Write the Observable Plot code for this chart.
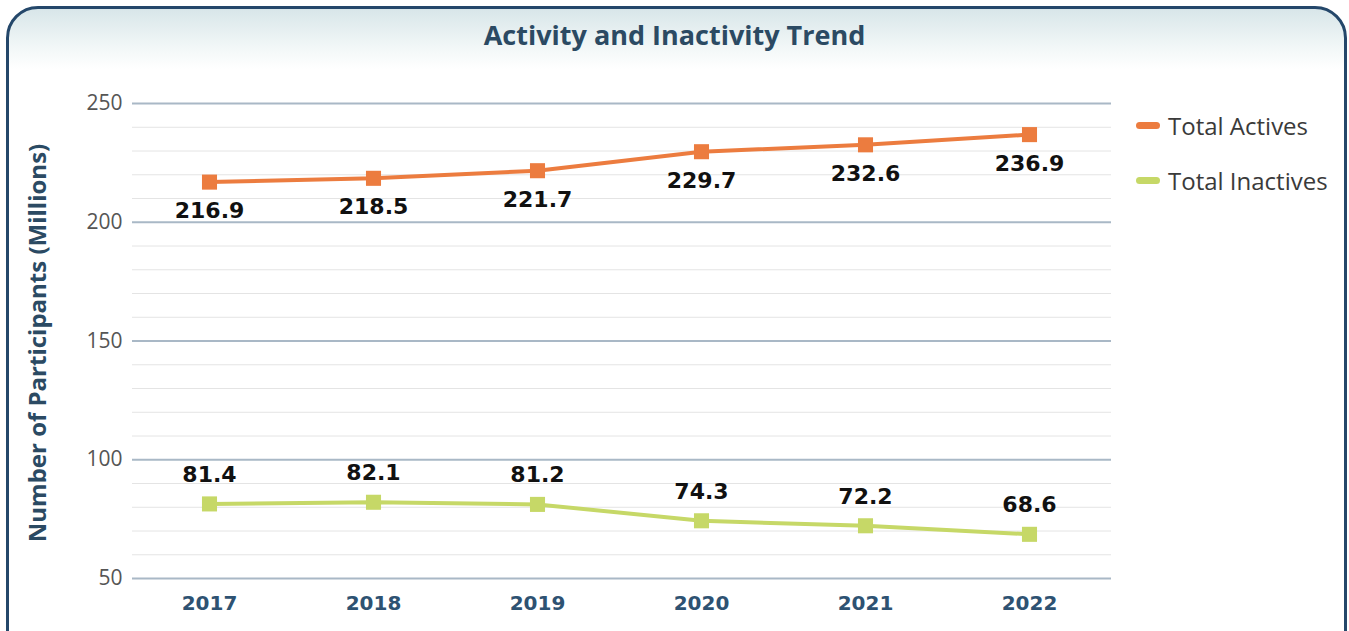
<!DOCTYPE html>
<html><head><meta charset="utf-8">
<script src="https://cdn.jsdelivr.net/npm/d3@7"></script>
<script src="https://cdn.jsdelivr.net/npm/@observablehq/plot@0.6"></script>
<style>
body{margin:0;background:#fff;width:1349px;height:631px;overflow:hidden;position:relative;font-family:"Open Sans",sans-serif}
#frame{position:absolute;left:6px;top:6px;width:1335px;height:700px;border:3px solid #24476a;border-radius:32px;background:linear-gradient(#d8e6e9 0px,#f3f8f8 40px,#ffffff 60px,#fff 100%)}
#title{position:absolute;left:0;top:0;width:1349px;height:64px;line-height:70px;text-align:center;font-weight:700;font-size:27px;color:#2b4a63;font-family:"Open Sans",sans-serif}
#chart{position:absolute;left:0;top:64px}
.leg{position:absolute;left:1136px;display:flex;align-items:center;font-size:24px;color:#3a3a3a;font-family:"Open Sans",sans-serif;height:30px}
.sw{width:24px;height:7px;border-radius:4px;margin-right:8px}
</style></head>
<body>
<div id="frame"></div>
<div id="title">Activity and Inactivity Trend</div>
<div id="chart"></div>
<div class="leg" style="top:110px"><div class="sw" style="background:#ec7c3f"></div>Total Actives</div>
<div class="leg" style="top:165px"><div class="sw" style="background:#c6d867"></div>Total Inactives</div>
<script>
const years = ["2017","2018","2019","2020","2021","2022"];
const actives = [216.9, 218.5, 221.7, 229.7, 232.6, 236.9];
const inactives = [81.4, 82.1, 81.2, 74.3, 72.2, 68.6];
const majorTicks = [50, 100, 150, 200, 250];
const minorTicks = [60,70,80,90,110,120,130,140,160,170,180,190,210,220,230,240];
const seriesNames = ["Total Actives", "Total Inactives"];
const seriesColors = ["#ec7c3f", "#c6d867"];

const actData = years.map((y,i)=>({year:y, value:actives[i]}));
const inaData = years.map((y,i)=>({year:y, value:inactives[i]}));

const chart = Plot.plot({
  width: 1349, height: 567,
  marginTop: 39, marginBottom: 53, marginLeft: 132, marginRight: 238,
  style: {background: "transparent", overflow: "visible"},
  x: {type: "point", domain: years, range: [207.5, 1030.5], padding: 0},
  y: {domain: [50, 250]},
  marks: [
    Plot.ruleY(minorTicks, {stroke: "#e4e4e4", strokeWidth: 1}),
    Plot.ruleY(majorTicks, {stroke: "#a9b8c6", strokeWidth: 2}),
    Plot.axisY({ticks: majorTicks, tickSize: 0, tickPadding: 10, fontSize: 21, fill: "#555", label: null, fontFamily: "Open Sans"}),
    Plot.axisX({tickSize: 0, tickPadding: 17, fontSize: 20, fontWeight: "bold", fill: "#2e5272", label: null, fontFamily: "DejaVu Sans"}),
    Plot.text(["Number of Participants (Millions)"], {frameAnchor: "left", textAnchor: "middle", rotate: -90, dx: -94, dy: 2, fontSize: 24, fontWeight: "bold", fill: "#2b4a63", fontFamily: "Open Sans"}),
    Plot.line(actData, {x: "year", y: "value", stroke: seriesColors[0], strokeWidth: 4}),
    Plot.dot(actData, {x: "year", y: "value", symbol: "square", r: 8.5, fill: seriesColors[0]}),
    Plot.line(inaData, {x: "year", y: "value", stroke: seriesColors[1], strokeWidth: 4}),
    Plot.dot(inaData, {x: "year", y: "value", symbol: "square", r: 8.5, fill: seriesColors[1]}),
    Plot.text(actData, {x: "year", y: "value", text: d => d.value.toFixed(1), dy: 29, fontSize: 22, fontWeight: "bold", fill: "#111", fontFamily: "DejaVu Sans"}),
    Plot.text(inaData, {x: "year", y: "value", text: d => d.value.toFixed(1), dy: -29, fontSize: 22, fontWeight: "bold", fill: "#111", fontFamily: "DejaVu Sans"})
  ]
});
document.getElementById("chart").appendChild(chart);
</script>
</body></html>
